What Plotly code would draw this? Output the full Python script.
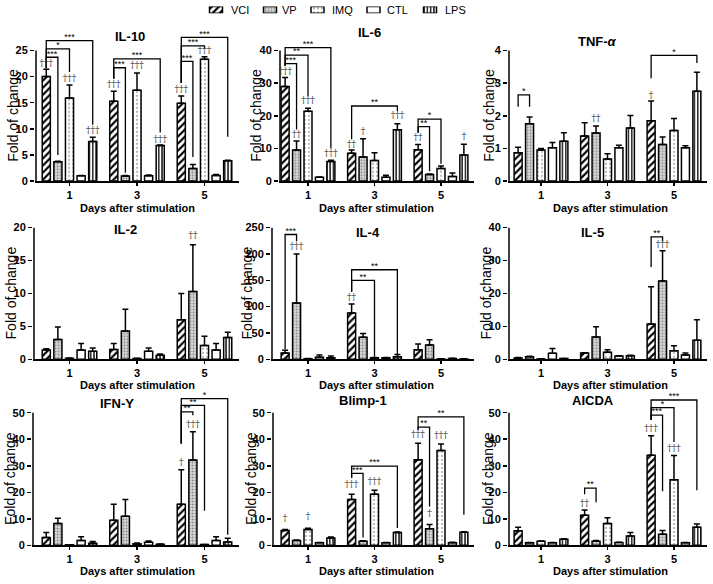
import plotly.graph_objects as go

W, H = 713, 584
SERIES = ["VCI", "VP", "IMQ", "CTL", "LPS"]
DAY_LABELS = ["1", "3", "5"]
DAY_POS = [0, 1, 2]

# ---------------- data (rows = VCI, VP, IMQ, CTL, LPS ; columns = day 1, 3, 5) ----------------
IL10_MEAN = [[20.0, 15.3, 14.9], [3.7, 1.0, 2.4], [15.9, 17.4, 23.3], [1.05, 1.05, 1.1], [7.6, 6.8, 3.9]]
IL10_ERR = [[1.4, 1.9, 1.4], [0.1, 0.1, 0.8], [2.5, 3.3, 0.5], [0.05, 0.1, 0.15], [0.8, 0.1, 0.1]]
IL10_DAGGERS = [(0, 0, 22.4, "†††"), (0, 2, 19.6, "†††"), (0, 4, 9.6, "†††"),
                (1, 0, 18.4, "†††"), (1, 2, 22.0, "†††"), (1, 4, 8.0, "†††"),
                (2, 0, 17.5, "†††"), (2, 2, 24.9, "†††")]
IL10_BRACKETS = [(0, 1, 23.7, 21.6, 5.0, "***"), (0, 2, 25.3, 21.6, 20.9, "*"), (0, 4, 26.9, 21.6, 10.8, "***"),
                 (1, 1, 21.7, 19.6, 1.6, "***"), (1, 4, 23.4, 19.6, 9.3, "***"),
                 (2, 1, 22.9, 18.8, 4.6, "***"), (2, 2, 25.9, 18.8, 25.3, "***"), (2, 4, 27.5, 18.8, 8.5, "***")]

IL6_MEAN = [[29.0, 8.5, 9.6], [9.5, 7.4, 2.0], [21.4, 6.3, 3.9], [1.2, 1.2, 1.4], [6.0, 15.7, 8.0]]
IL6_ERR = [[2.7, 1.0, 1.6], [2.8, 5.6, 0.2], [0.9, 2.4, 0.7], [0.1, 0.6, 1.1], [0.4, 1.9, 3.3]]
IL6_DAGGERS = [(0, 0, 33.6, "†††"), (0, 1, 14.2, "††"), (0, 2, 24.6, "†††"), (0, 4, 8.4, "†††"),
               (1, 0, 11.2, "††"), (1, 1, 15.2, "†"), (1, 4, 19.9, "†††"),
               (2, 0, 13.3, "††"), (2, 4, 13.6, "†")]
IL6_BRACKETS = [(0, 1, 36.0, 35.3, 15.8, "***"), (0, 2, 38.6, 35.3, 26.0, "**"), (0, 4, 40.9, 35.3, 10.0, "***"),
                (1, 4, 23.0, 12.8, 21.5, "**"),
                (2, 1, 16.7, 14.8, 3.0, "**"), (2, 2, 19.0, 14.8, 5.3, "*")]

TNF_MEAN = [[0.87, 1.38, 1.85], [1.76, 1.47, 1.12], [0.95, 0.68, 1.55], [1.02, 1.02, 1.02], [1.22, 1.63, 2.75]]
TNF_ERR = [[0.17, 0.41, 0.6], [0.2, 0.22, 0.23], [0.05, 0.16, 0.37], [0.16, 0.08, 0.06], [0.26, 0.38, 0.58]]
TNF_DAGGERS = [(1, 1, 1.92, "††"), (2, 0, 2.62, "†")]
TNF_BRACKETS = [(0, 1, 2.64, 2.28, 2.28, "*"), (2, 4, 3.85, 3.15, 3.62, "*")]

IL2_MEAN = [[1.4, 1.5, 6.0], [3.0, 4.3, 10.3], [0.15, 0.1, 2.1], [1.4, 1.2, 1.4], [1.2, 0.6, 3.3]]
IL2_ERR = [[0.2, 0.9, 4.0], [1.9, 3.3, 7.1], [0.05, 0.05, 1.4], [1.0, 0.5, 1.0], [0.5, 0.2, 0.8]]
IL2_DAGGERS = [(2, 1, 18.7, "††")]
IL2_BRACKETS = []

IL4_MEAN = [[12, 88, 18], [107, 42, 27], [1, 3, 0.5], [4, 3, 1.5], [3, 5, 0.5]]
IL4_ERR = [[5, 17, 11], [93, 7, 10], [0.5, 0.5, 0.3], [4, 0.5, 0.5], [3, 4, 0.3]]
IL4_DAGGERS = [(0, 1, 213, "†††"), (1, 0, 117, "††")]
IL4_BRACKETS = [(0, 1, 237, 19, 224, "***"), (1, 2, 150, 128, 5, "**"), (1, 4, 170, 128, 10, "**")]

IL5_MEAN = [[0.4, 1.9, 10.7], [0.8, 6.8, 23.8], [0.1, 2.1, 2.6], [1.8, 1.0, 1.3], [0.2, 1.1, 5.8]]
IL5_ERR = [[0.1, 0.1, 11.3], [0.1, 3.1, 9.2], [0.05, 0.8, 1.5], [1.5, 0.1, 0.6], [0.05, 0.1, 6.2]]
IL5_DAGGERS = [(2, 1, 34.8, "†††")]
IL5_BRACKETS = [(2, 1, 37.2, 28.0, 35.8, "**")]

IFN_MEAN = [[3.0, 9.5, 15.5], [8.2, 11.0, 32.2], [0.2, 0.6, 0.3], [1.8, 1.2, 1.8], [0.8, 0.4, 1.3]]
IFN_ERR = [[1.8, 6.0, 13.0], [2.0, 6.3, 10.6], [0.05, 0.3, 0.05], [1.4, 0.4, 1.4], [0.6, 0.1, 1.4]]
IFN_DAGGERS = [(2, 0, 31.0, "†"), (2, 1, 45.4, "†††")]
IFN_BRACKETS = [(2, 1, 50.3, 38.4, 49.0, "**"), (2, 2, 52.8, 38.4, 13.0, "**"), (2, 4, 55.3, 38.4, 4.0, "*")]

BLIMP_MEAN = [[5.6, 17.3, 32.3], [1.8, 1.5, 6.3], [6.0, 19.3, 35.8], [1.0, 1.0, 1.0], [2.8, 4.8, 4.9]]
BLIMP_ERR = [[0.4, 2.0, 6.2], [0.2, 0.2, 1.6], [0.4, 1.5, 2.4], [0.1, 0.1, 0.2], [0.3, 0.2, 0.2]]
BLIMP_DAGGERS = [(0, 0, 10.2, "†"), (0, 2, 10.8, "†"), (1, 0, 22.8, "†††"), (1, 2, 24.0, "†††"),
                 (2, 0, 41.6, "†††"), (2, 1, 12.0, "†"), (2, 2, 41.4, "†††")]
BLIMP_BRACKETS = [(1, 1, 27.1, 25.5, 3.0, "***"), (1, 4, 29.9, 25.5, 6.5, "***"),
                  (2, 1, 44.6, 43.6, 14.6, "**"), (2, 4, 48.4, 43.6, 11.5, "**")]

AICDA_MEAN = [[5.5, 11.3, 34.0], [1.0, 1.5, 4.2], [1.5, 8.2, 24.7], [1.0, 1.1, 1.0], [2.3, 3.5, 6.8]]
AICDA_ERR = [[1.3, 2.0, 7.3], [0.1, 0.3, 1.4], [0.1, 2.2, 9.2], [0.05, 0.05, 0.1], [0.2, 1.3, 1.2]]
AICDA_DAGGERS = [(1, 0, 15.6, "††"), (2, 0, 44.0, "†††"), (2, 2, 36.3, "†††")]
AICDA_BRACKETS = [(1, 1, 21.6, 19.3, 16.2, "**"), (2, 1, 49.1, 47.3, 20.4, "***"),
                  (2, 2, 51.9, 47.3, 39.0, "*"), (2, 4, 54.8, 47.3, 20.8, "***")]

# ---------------- layout / style ----------------
FONT = "Liberation Sans, Arial, Helvetica, sans-serif"
BARGAP = 0.14
BARGROUPGAP = 0.3
SLOT = (1 - BARGAP) / len(SERIES)


def offset(i):
    return (i + 0.5) * SLOT - (1 - BARGAP) / 2


# (baseline px, top-tick px, domain-top px)
ROWS = [(183, 51, 18), (363, 230, 205), (551, 417, 390)]
# (px per unit, px of first group centre, right edge px)
COLS = [(67.5, 69.5, 238.5), (66.5, 308, 474), (66.5, 541, 707)]
XTITLE_Y = [210, 389, 577]
XTITLE_X = [137, 376, 610]

# legend geometry (px): icon centre x, text left x
LEG_ICON_X = [216, 270, 317.5, 373.5, 430]
LEG_TEXT_X = [229, 280, 330, 385, 443]
LEG_Y = 10

PANELS = [
    dict(title="IL-10", mean=IL10_MEAN, err=IL10_ERR, dag=IL10_DAGGERS, br=IL10_BRACKETS,
         ymax=25, dtick=5, row=0, col=0, axis_px=36, tpos=(130, 37), ylx=13),
    dict(title="IL-6", mean=IL6_MEAN, err=IL6_ERR, dag=IL6_DAGGERS, br=IL6_BRACKETS,
         ymax=40, dtick=10, row=0, col=1, axis_px=280, tpos=(369, 33), ylx=256),
    dict(title="TNF-<i>α</i>", mean=TNF_MEAN, err=TNF_ERR, dag=TNF_DAGGERS, br=TNF_BRACKETS,
         ymax=4, dtick=1, row=0, col=2, axis_px=509, tpos=(597, 42), ylx=489),
    dict(title="IL-2", mean=IL2_MEAN, err=IL2_ERR, dag=IL2_DAGGERS, br=IL2_BRACKETS,
         ymax=20, dtick=5, row=1, col=0, axis_px=34, tpos=(125, 232), ylx=11),
    dict(title="IL-4", mean=IL4_MEAN, err=IL4_ERR, dag=IL4_DAGGERS, br=IL4_BRACKETS,
         ymax=250, dtick=50, row=1, col=1, axis_px=272, tpos=(368, 235), ylx=247),
    dict(title="IL-5", mean=IL5_MEAN, err=IL5_ERR, dag=IL5_DAGGERS, br=IL5_BRACKETS,
         ymax=40, dtick=10, row=1, col=2, axis_px=509, tpos=(592, 235), ylx=486),
    dict(title="IFN-Y", mean=IFN_MEAN, err=IFN_ERR, dag=IFN_DAGGERS, br=IFN_BRACKETS,
         ymax=50, dtick=10, row=2, col=0, axis_px=33, tpos=(117, 408), ylx=10),
    dict(title="Blimp-1", mean=BLIMP_MEAN, err=BLIMP_ERR, dag=BLIMP_DAGGERS, br=BLIMP_BRACKETS,
         ymax=50, dtick=10, row=2, col=1, axis_px=273, tpos=(363, 405), ylx=251),
    dict(title="AICDA", mean=AICDA_MEAN, err=AICDA_ERR, dag=AICDA_DAGGERS, br=AICDA_BRACKETS,
         ymax=50, dtick=10, row=2, col=2, axis_px=509, tpos=(593, 405), ylx=488),
]

PATTERNS = [
    dict(shape="/", fgcolor="black", bgcolor="white", size=5, solidity=0.42, fillmode="replace"),
    dict(shape=".", fgcolor="#8a8a8a", bgcolor="#dadada", size=3, solidity=0.35, fillmode="replace"),
    dict(shape=".", fgcolor="#9a9a9a", bgcolor="white", size=4, solidity=0.16, fillmode="replace"),
    dict(shape="", fgcolor="black", bgcolor="white", fillmode="replace"),
    dict(shape="|", fgcolor="black", bgcolor="white", size=3.3, solidity=0.4, fillmode="replace"),
]

fig = go.Figure()
layout = {}
annotations = []

for p_i, P in enumerate(PANELS):
    sfx = "" if p_i == 0 else str(p_i + 1)
    xa, ya = "x" + sfx, "y" + sfx
    base, top, dtop = ROWS[P["row"]]
    ppu, c1, right = COLS[P["col"]]
    k = (base - top) / P["ymax"]  # px per y unit
    dom_left = P["axis_px"] - 1
    x0 = (dom_left - c1) / ppu
    x1 = (right - c1) / ppu
    yline_x = (P["axis_px"] - c1) / ppu
    ytop = P["ymax"] * (base - dtop) / (base - top)

    layout["xaxis" + sfx] = dict(
        domain=[dom_left / W, right / W], range=[x0, x1], anchor=ya,
        tickvals=DAY_POS, ticktext=DAY_LABELS, ticks="outside", ticklen=3, tickwidth=1.5,
        tickcolor="black", showline=True, linecolor="black", linewidth=1.5,
        showgrid=False, zeroline=False, fixedrange=True,
        tickfont=dict(size=11, weight="bold", family=FONT, color="black"))
    layout["yaxis" + sfx] = dict(
        domain=[1 - base / H, 1 - dtop / H], range=[0, ytop], anchor=xa,
        tickvals=list(range(0, P["ymax"] + 1, P["dtick"])), ticks="outside", ticklen=4,
        tickwidth=1.5, tickcolor="black", showline=False, showgrid=False, zeroline=False,
        fixedrange=True, tickfont=dict(size=11, weight="bold", family=FONT, color="black"))

    for s, name in enumerate(SERIES):
        fig.add_trace(go.Bar(
            x=DAY_POS, y=P["mean"][s], name=name, xaxis=xa, yaxis=ya,
            showlegend=False, hoverinfo="skip",
            marker=dict(color="white", line=dict(color="black", width=1.5), pattern=PATTERNS[s]),
            error_y=dict(type="data", symmetric=False, array=P["err"][s], arrayminus=[0, 0, 0],
                         color="black", thickness=1.5, width=3)))

    # y axis line (only up to the top tick)
    fig.add_trace(go.Scatter(x=[yline_x, yline_x], y=[0, P["ymax"]], mode="lines",
                             line=dict(color="black", width=1.5), xaxis=xa, yaxis=ya,
                             showlegend=False, hoverinfo="skip"))

    # significance brackets
    if P["br"]:
        bx, by, lx, ly, lt = [], [], [], [], []
        for (d, t, yb, yl, yr, lab) in P["br"]:
            xl = DAY_POS[d] + offset(0)
            xr = DAY_POS[d] + offset(t)
            bx += [xl, xl, xr, xr, None]
            by += [yl, yb, yb, yr, None]
            lx.append((xl + xr) / 2)
            ly.append(yb + 3.0 / k)
            lt.append(lab)
        fig.add_trace(go.Scatter(x=bx, y=by, mode="lines", line=dict(color="black", width=1.3),
                                 xaxis=xa, yaxis=ya, showlegend=False, hoverinfo="skip"))
        fig.add_trace(go.Scatter(x=lx, y=ly, mode="text", text=lt, textposition="middle center",
                                 textfont=dict(size=9, color="black", family=FONT),
                                 cliponaxis=False, xaxis=xa, yaxis=ya, showlegend=False,
                                 hoverinfo="skip"))

    # daggers
    if P["dag"]:
        fig.add_trace(go.Scatter(
            x=[DAY_POS[d] + offset(s) for (d, s, y, t) in P["dag"]],
            y=[y for (d, s, y, t) in P["dag"]],
            text=[t for (d, s, y, t) in P["dag"]],
            mode="text", textposition="middle center",
            textfont=dict(size=9, color="#333333", family="DejaVu Serif, serif"),
            cliponaxis=False, xaxis=xa, yaxis=ya, showlegend=False, hoverinfo="skip"))

    # titles
    annotations.append(dict(text="<b>%s</b>" % P["title"], x=P["tpos"][0] / W, y=1 - P["tpos"][1] / H,
                            xref="paper", yref="paper", showarrow=False, xanchor="center",
                            yanchor="middle", font=dict(size=13, family=FONT, color="black")))
    annotations.append(dict(text="Fold of change", x=P["ylx"] / W, y=1 - ((base + top) / 2) / H,
                            xref="paper", yref="paper", showarrow=False, textangle=-90,
                            xanchor="center", yanchor="middle",
                            font=dict(size=14, family=FONT, color="black")))
    annotations.append(dict(text="<b>Days after stimulation</b>", x=XTITLE_X[P["col"]] / W,
                            y=1 - XTITLE_Y[P["row"]] / H, xref="paper", yref="paper",
                            showarrow=False, xanchor="center", yanchor="middle",
                            font=dict(size=11, family=FONT, color="black")))

# ---------------- custom legend (small patterned swatches on a hidden axis) ----------------
LEG_AX = str(len(PANELS) + 1)
for s, name in enumerate(SERIES):
    fig.add_trace(go.Bar(
        x=[LEG_ICON_X[s]], y=[1], width=[13], offset=[-6.5], base=[0],
        xaxis="x" + LEG_AX, yaxis="y" + LEG_AX, showlegend=False, hoverinfo="skip",
        marker=dict(color="white", line=dict(color="black", width=1.5), pattern=PATTERNS[s])))
    annotations.append(dict(text=name, x=LEG_TEXT_X[s] / W, y=1 - LEG_Y / H, xref="paper",
                            yref="paper", showarrow=False, xanchor="left", yanchor="middle",
                            font=dict(size=11, family=FONT, color="black")))
layout["xaxis" + LEG_AX] = dict(domain=[0, 1], range=[0, W], visible=False, fixedrange=True,
                                anchor="y" + LEG_AX)
layout["yaxis" + LEG_AX] = dict(domain=[1 - (LEG_Y + 3.5) / H, 1 - (LEG_Y - 3.5) / H], range=[0, 1],
                                visible=False, fixedrange=True, anchor="x" + LEG_AX)

fig.update_layout(
    width=W, height=H, autosize=False,
    margin=dict(l=0, r=0, t=0, b=0),
    plot_bgcolor="white", paper_bgcolor="white",
    barmode="group", bargap=BARGAP, bargroupgap=BARGROUPGAP,
    font=dict(family=FONT, color="black"),
    showlegend=False,
    annotations=annotations,
    **layout)

fig.write_html("out.html",
               config={"displayModeBar": False, "staticPlot": True},
               post_script="document.body.style.margin='0';"
                           "document.documentElement.style.overflow='hidden';")
